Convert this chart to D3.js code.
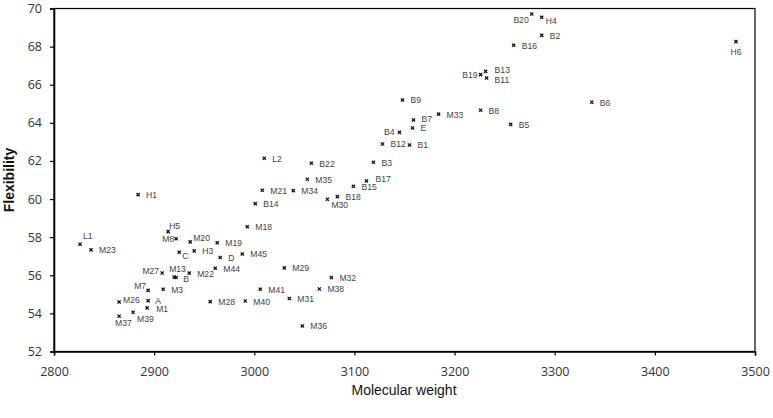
<!DOCTYPE html>
<html>
<head>
<meta charset="utf-8">
<script src="https://cdn.jsdelivr.net/npm/d3@7"></script>
<style>
  body { margin: 0; background: #fff; }
  svg { display: block; }
  .tick text { font-family: "Open Sans", sans-serif; font-size: 12.5px; fill: #333; }
  .pt-label { font-family: "Liberation Sans", sans-serif; font-size: 8.6px; fill: #444; }
</style>
</head>
<body>
<svg id="chart" width="773" height="418"></svg>
<script>
// sample names, molecular weight (x) and flexibility (y)
const names = ["H1","L1","M23","H5","M8","M20","M19","C","H3","D","M45","M27","M13","B","M22","M44",
  "M7","M3","M26","A","M1","M39","M37","M28","M40","M18","M29","M32","M41","M38","M31","M36",
  "L2","B22","B3","M35","B17","B15","M21","M34","M30","B18","B14","B12","B1","B4","E",
  "B7","B9","M33","B8","B5","B19","B13","B11","B16","B20","H4","B2","H6","B6"];
const molWeight = [2884,2826,2837,2914,2922,2936,2963,2925,2940,2966,2988,2908,2920,2922,2935,2961,
  2894,2909,2865,2894,2893,2879,2865,2956,2991,2993,3030,3077,3006,3065,3035,3048,
  3010,3057,3119,3053,3112,3099,3008,3039,3073,3083,3001,3128,3155,3145,3158,
  3159,3148,3184,3226,3256,3226,3231,3232,3259,3277,3287,3287,3481,3337];
const flexibility = [60.23,57.63,57.33,58.29,57.92,57.75,57.71,57.21,57.28,56.93,57.12,56.12,55.90,55.88,56.11,56.37,
  55.21,55.27,54.60,54.67,54.29,54.06,53.85,54.62,54.65,58.55,56.39,55.88,55.27,55.28,54.78,53.34,
  62.14,61.88,61.93,61.04,60.95,60.67,60.46,60.44,59.99,60.13,59.76,62.89,62.84,63.50,63.73,
  64.15,65.20,64.46,64.66,63.92,66.53,66.70,66.35,68.07,69.71,69.54,68.59,68.26,65.08];

const xTicks = [2800, 2900, 3000, 3100, 3200, 3300, 3400, 3500];
const yTicks = [52, 54, 56, 58, 60, 62, 64, 66, 68, 70];

// label placement (default: right of the marker)
const labelPos = {
  L1: [3, -5, "start"], H5: [1, -3, "start"], M8: [-2, 3, "end"], M20: [3, -1, "start"],
  C: [3, 7, "start"], M27: [-3, 1, "end"], M13: [-5, -5, "start"], B: [7, 4, "start"],
  M7: [-2, -1, "end"], M26: [4, 1, "start"], M39: [4, 10, "start"], M37: [-4, 10, "start"],
  M30: [4, 9, "start"], B4: [-5, 3, "end"], B19: [-3, 3, "end"], B20: [-3, 9, "end"],
  H4: [4, 7, "start"], H6: [0, 13, "middle"], B17: [9, 1, "start"], B13: [9, 2, "start"],
  B11: [8, 5, "start"], A: [7, 3, "start"], M1: [9, 4.5, "start"], B7: [8, 2.5, "start"]
};

const svg = d3.select("#chart");
const x = d3.scaleLinear().domain([2800, 3500]).range([54, 755]);
const y = d3.scaleLinear().domain([52, 70]).range([351.5, 8.5]);

// frame
svg.append("rect")
  .attr("x", 54).attr("y", 8.5)
  .attr("width", 701).attr("height", 343)
  .attr("fill", "none").attr("stroke", "#000").attr("stroke-width", 1.2);

svg.append("g")
  .attr("transform", "translate(0,351.5)")
  .call(d3.axisBottom(x).tickValues(xTicks).tickSize(4).tickPadding(12).tickFormat(d3.format("d")))
  .call(g => g.select(".domain").attr("stroke-width", 1.6))
  .call(g => g.selectAll(".tick line").attr("stroke-width", 1.2));

svg.append("g")
  .attr("transform", "translate(54,0)")
  .call(d3.axisLeft(y).tickValues(yTicks).tickSize(4).tickPadding(8))
  .call(g => g.select(".domain").attr("stroke-width", 1.6))
  .call(g => g.selectAll(".tick line").attr("stroke-width", 1.2));

// axis titles
svg.append("text")
  .attr("x", 404).attr("y", 395)
  .attr("text-anchor", "middle")
  .style("font-family", "'Liberation Sans Narrow', 'Arial Narrow', sans-serif")
  .style("font-size", "14px").attr("fill", "#111")
  .text("Molecular weight");

svg.append("text")
  .attr("transform", "translate(14,180) rotate(-90)")
  .attr("text-anchor", "middle")
  .style("font-family", "'Liberation Sans Narrow', 'Arial Narrow', sans-serif")
  .style("font-size", "14px").style("font-weight", "bold").attr("fill", "#111")
  .text("Flexibility");

// points
const pts = names.map((n, i) => ({ name: n, mw: molWeight[i], fl: flexibility[i] }));

const pt = svg.append("g").selectAll("g")
  .data(pts)
  .enter().append("g")
  .attr("transform", d => `translate(${x(d.mw)},${y(d.fl)})`);

pt.append("path")
  .attr("d", "M-1.6,-1.6L1.6,1.6M-1.6,1.6L1.6,-1.6")
  .attr("stroke", "#111").attr("stroke-width", 1.3);

pt.append("text")
  .attr("class", "pt-label")
  .attr("x", d => (labelPos[d.name] || [8, 3.5])[0])
  .attr("y", d => (labelPos[d.name] || [8, 3.5])[1])
  .attr("text-anchor", d => (labelPos[d.name] || [0, 0, "start"])[2])
  .text(d => d.name);
</script>
</body>
</html>
